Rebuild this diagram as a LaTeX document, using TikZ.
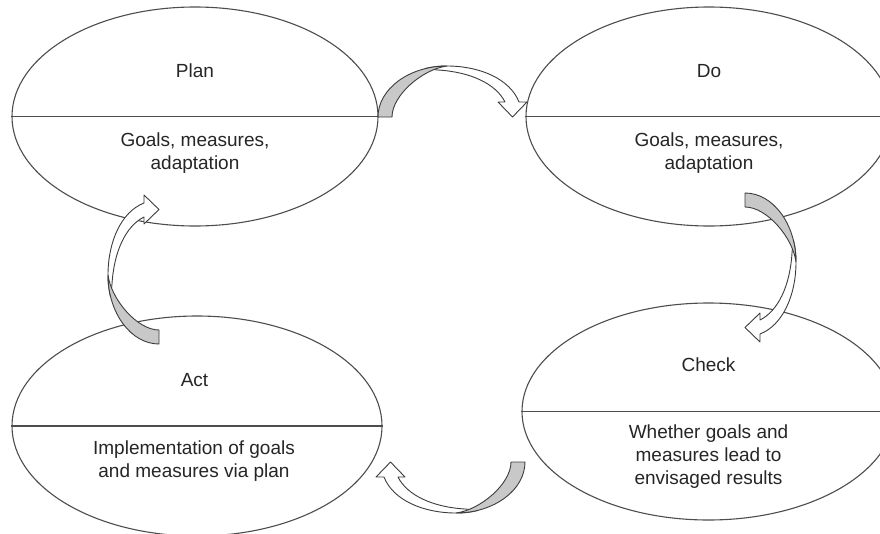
\documentclass[tikz,border=0pt]{standalone}
\usepackage{fontspec}
\setmainfont{Liberation Sans}
\usetikzlibrary{shapes.geometric}

\definecolor{edgegray}{HTML}{4D4D4D}
\definecolor{inkgray}{HTML}{262626}
\definecolor{backshade}{HTML}{C8C8C8}
\definecolor{arrowline}{HTML}{3C3C3C}

\tikzset{
  phase/.style={ellipse, draw=edgegray, line width=1.1pt, fill=white, inner sep=0pt},
  phaseline/.style={draw=edgegray, line width=1.1pt},
  title/.style={anchor=base, inner sep=0pt, text=inkgray,
    font=\fontsize{19}{23}\selectfont},
  body/.style={anchor=base, inner sep=0pt, text=inkgray,
    font=\fontsize{19}{23}\selectfont},
  arrowface/.style={fill=white, draw=arrowline, line width=0.9pt, line join=round},
  arrowback/.style={fill=backshade, draw=arrowline, line width=0.9pt, line join=round},
  % curved block arrow: tail at the origin, arch rising to the left apex,
  % head pointing back down at the far end
  cyclearrow/.pic={
    \filldraw[arrowface] (47,48.4) .. controls (55,50.5) and (62,51) .. (69,51)
       .. controls (102,51) and (132,38) .. (141,15)
       -- (149,15) -- (134.5,0) -- (120,15) -- (127,15)
       .. controls (118,33) and (93,45) .. (60,47)
       .. controls (55,47.5) and (50,48) .. cycle;
    \filldraw[arrowback] (0,0) .. controls (0,28) and (31,51) .. (69,51)
       .. controls (45,48) and (14,22) .. (14,0) -- cycle;
  }
}

\newcommand{\twoline}[2]{\begin{tabular}[t]{@{}c@{}}#1\\#2\end{tabular}}
\newcommand{\threeline}[3]{\begin{tabular}[t]{@{}c@{}}#1\\#2\\#3\end{tabular}}

\begin{document}
\begin{tikzpicture}[x=1pt, y=1pt]
  \useasboundingbox (0,0) rectangle (880,-533);
  \clip (0,0) rectangle (880,-533);

  % the four phases
  \node[phase, minimum width=366pt, minimum height=219pt] (plan)  at (195,-116.5) {};
  \node[phase, minimum width=366pt, minimum height=219pt] (do)    at (709,-116.5) {};
  \node[phase, minimum width=373pt, minimum height=217pt] (check) at (708.5,-411.5) {};
  \node[phase, minimum width=370pt, minimum height=220pt] (act)   at (197,-426) {};

  \draw[phaseline] (plan.west)  -- (plan.east);
  \draw[phaseline] (do.west)    -- (do.east);
  \draw[phaseline] (check.west) -- (check.east);
  \draw[phaseline] (act.west)   -- (act.east);

  % labels
  \node[title] (plantitle)  at (195,-77)    {Plan};
  \node[body]  (plantext)   at (195,-146)   {\twoline{Goals, measures,}{adaptation}};
  \node[title] (dotitle)    at (709,-77)    {Do};
  \node[body]  (dotext)     at (709,-146)   {\twoline{Goals, measures,}{adaptation}};
  \node[title] (checktitle) at (708.5,-371) {Check};
  \node[body]  (checktext)  at (708.5,-438) {\threeline{Whether goals and}{measures lead to}{envisaged results}};
  \node[title] (acttitle)   at (194.5,-386) {Act};
  \node[body]  (acttext)    at (194,-454)   {\twoline{Implementation of goals}{and measures via plan}};

  % tails of the cycle arrows
  \coordinate (planout)  at (378,-117);
  \coordinate (doout)    at (745,-193);
  \coordinate (checkout) at (525,-462);
  \coordinate (actout)   at (159,-344);

  \pic at (planout) {cyclearrow};
  \pic[rotate=-90] at (doout) {cyclearrow};
  \pic[rotate=180] at (checkout) {cyclearrow};
  \pic[rotate=90] at (actout) {cyclearrow};
\end{tikzpicture}
\end{document}
